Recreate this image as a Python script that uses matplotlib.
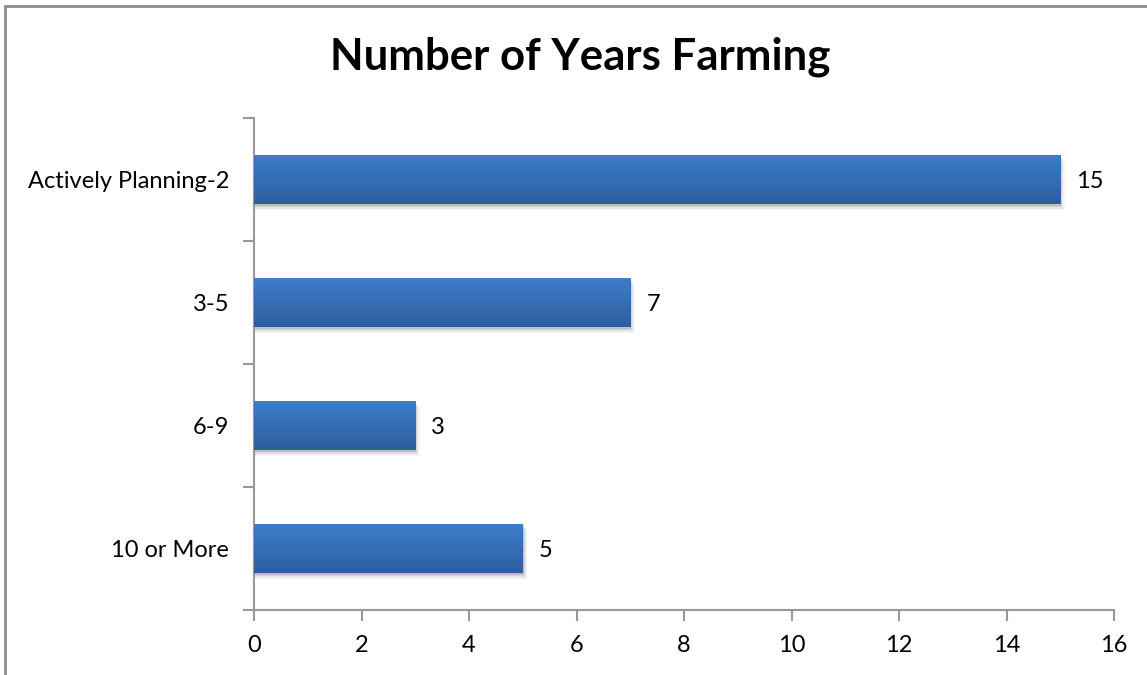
import numpy as np
import matplotlib.pyplot as plt
from matplotlib.patches import Rectangle

plt.rcParams['font.family'] = ['Lato', 'DejaVu Sans']

categories = ['10 or More', '6-9', '3-5', 'Actively Planning-2']
counts = [5, 3, 7, 15]
x_ticks = [0, 2, 4, 6, 8, 10, 12, 14, 16]

W, H = 1147, 675
fig = plt.figure(figsize=(W / 100, H / 100), dpi=100)
ax = fig.add_axes([254 / W, 65 / H, 860 / W, 492 / H])

# outer frame of the chart area, running off the right and bottom edges
fig.patches.append(Rectangle((4.5 / W, -0.05), 1.1, (H - 5.5) / H + 0.05,
                             transform=fig.transFigure, fill=False,
                             edgecolor='#8c8c8c', linewidth=2, zorder=0))

y = np.arange(len(categories))
bars = ax.barh(y, counts, height=0.4, color='none', edgecolor='none', zorder=3)

# vertical blue gradient, lighter at the top
grad = np.linspace(0, 1, 256).reshape(-1, 1)
top = np.array([0.24, 0.49, 0.80])
bottom = np.array([0.18, 0.37, 0.62])
img = grad[:, :, None] * top + (1 - grad[:, :, None]) * bottom
img = np.repeat(img, 2, axis=1)

for rect, v in zip(bars, counts):
    x0, y0 = rect.get_x(), rect.get_y()
    w, h = rect.get_width(), rect.get_height()
    # soft drop shadow
    for k, a in enumerate([0.10, 0.08, 0.06, 0.04]):
        sh = Rectangle((x0, y0 - 0.012 * (k + 1)), w + 0.02 * (k + 1), h,
                       facecolor='black', edgecolor='none', alpha=a, zorder=2)
        ax.add_patch(sh)
    im = ax.imshow(img, extent=[x0, x0 + w, y0, y0 + h], origin='lower',
                   aspect='auto', zorder=3, interpolation='bilinear')
    im.set_clip_path(rect)
    ax.text(v + 0.3, y0 + h / 2 - 0.02, str(v), va='center', ha='left',
            fontsize=17, color='black')

ax.set_xlim(0, 16)
ax.set_ylim(-0.5, len(categories) - 0.5)
ax.set_xticks(x_ticks)
ax.set_yticks(np.arange(-0.5, len(categories), 1.0))
ax.set_yticklabels([])
ax.set_yticks(y, minor=True)
ax.set_yticklabels(categories, minor=True)
ax.tick_params(axis='y', which='minor', length=0, pad=18, labelsize=17)
ax.tick_params(axis='y', which='major', length=8, color='#999999', width=1.5)
ax.tick_params(axis='x', length=8, color='#999999', width=1.5, labelsize=17, pad=10)

for s in ['top', 'right']:
    ax.spines[s].set_visible(False)
for s in ['left', 'bottom']:
    ax.spines[s].set_color('#999999')
    ax.spines[s].set_linewidth(1.5)

fig.text(580 / W, 1 - 57 / H, 'Number of Years Farming', ha='center', va='center',
         fontsize=31.5, fontweight='bold')

fig.savefig('out.png', dpi=100)
